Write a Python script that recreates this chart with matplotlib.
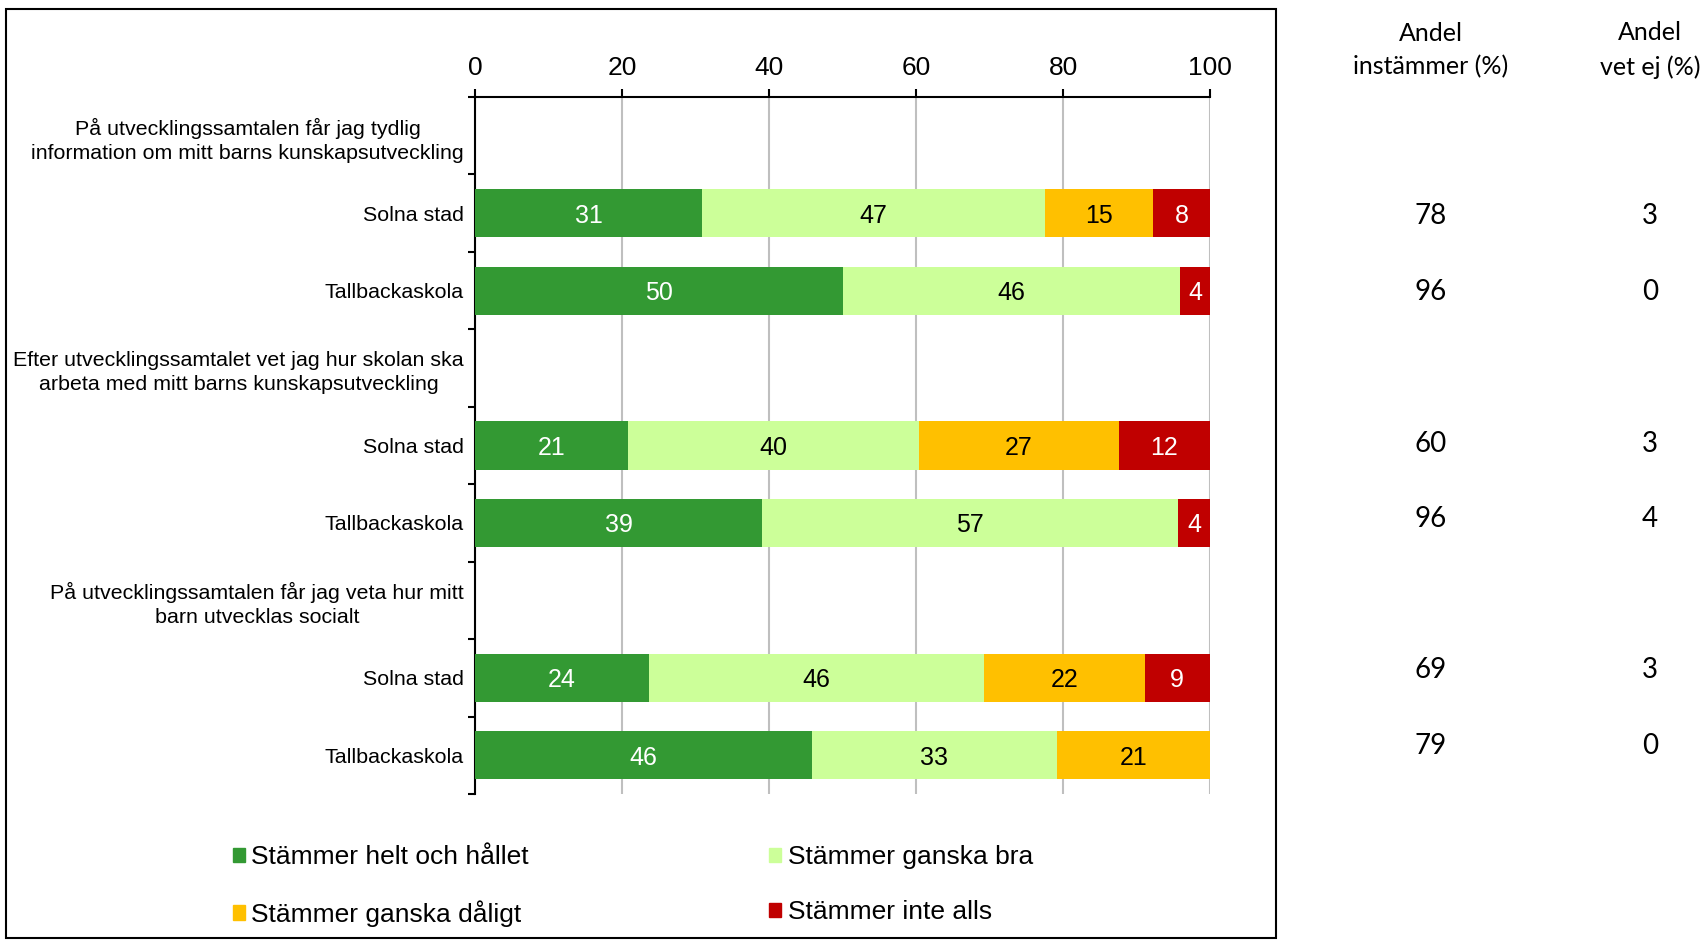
import numpy as np
import matplotlib
matplotlib.use('Agg')
import matplotlib.pyplot as plt
from matplotlib.patches import Patch, Rectangle

plt.rcParams['font.family'] = ['Liberation Sans', 'DejaVu Sans']

# data (percent)
questions = ["På utvecklingssamtalen får jag tydlig\ninformation om mitt barns kunskapsutveckling",
             "Efter utvecklingssamtalet vet jag hur skolan ska\narbeta med mitt barns kunskapsutveckling",
             "På utvecklingssamtalen får jag veta hur mitt\nbarn utvecklas socialt"]
groups = ["Solna stad", "Tallbackaskola"]

helt = [30.9, 50.0, 20.8, 39.1, 23.7, 45.8]
ganska_bra = [46.6, 45.9, 39.6, 56.6, 45.6, 33.4]
ganska_daligt = [14.8, 0, 27.2, 0, 21.8, 20.8]
inte_alls = [7.7, 4.1, 12.4, 4.3, 8.9, 0]

andel_instammer = [78, 96, 60, 96, 69, 79]
andel_vet_ej = [3, 0, 3, 4, 3, 0]

series_names = ["Stämmer helt och hållet", "Stämmer ganska bra",
                "Stämmer ganska dåligt", "Stämmer inte alls"]
colors = ["#339933", "#CCFF99", "#FFC000", "#C00000"]
text_colors = ["white", "black", "black", "white"]

W, H = 1703, 941
fig = plt.figure(figsize=(W / 100, H / 100), dpi=100)
ax = fig.add_axes([475 / W, 1 - 794 / H, (1210 - 475) / W, (794 - 97) / H])

# row layout: header, Solna, Tallbacka for each question
bar_y = [3 * q + 1 + g for q in range(len(questions)) for g in range(len(groups))]
ylabels = []
for q in questions:
    ylabels += [q] + groups

left = np.zeros(len(bar_y))
for vals, col, tcol, name in zip([helt, ganska_bra, ganska_daligt, inte_alls],
                                 colors, text_colors, series_names):
    vals = np.array(vals)
    ax.barh(bar_y, vals, left=left, height=0.62, color=col, label=name, zorder=3)
    for y, l, v in zip(bar_y, left, vals):
        if v > 0:
            ax.text(l + v / 2, y, f"{round(v)}", ha='center', va='center_baseline',
                    color=tcol, fontsize=18, zorder=4)
    left += vals

ax.set_xlim(0, 100)
ax.set_ylim(8.5, -0.5)
ax.xaxis.tick_top()
ax.set_xticks(range(0, 101, 20))
ax.tick_params(axis='x', length=6, width=1.5, labelsize=19, pad=6)
ax.set_yticks(range(9))
ax.set_yticklabels(ylabels)
for lbl in ax.get_yticklabels():
    lbl.set_multialignment('center')
    lbl.set_linespacing(1.32)
ax.set_yticks(np.arange(-0.5, 9, 1), minor=True)
ax.tick_params(axis='y', which='major', length=0, pad=8, labelsize=15.4)
ax.tick_params(axis='y', which='minor', length=5, width=1.5)
ax.grid(axis='x', color='#BFBFBF', lw=1.5)
ax.set_axisbelow(True)
for s in ['bottom', 'right']:
    ax.spines[s].set_visible(False)
for s in ['top', 'left']:
    ax.spines[s].set_linewidth(1.5)

# side table
ax2 = fig.add_axes([1276 / W, 1 - 784 / H, (W - 1276) / W, (784 - 103) / H])
ax2.axis('off')
ax2.set_xlim(0, 1)
ax2.set_ylim(8.5, -0.5)
col_x = [0.363, 0.876]
tfont = ['Lato', 'DejaVu Sans']
ax2.text(col_x[0], -1.2, "Andel\ninstämmer (%)", ha='center', va='center',
         fontsize=18, family=tfont, linespacing=1.55)
ax2.text(col_x[1], -1.2, "Andel\nvet ej (%)", ha='center', va='center',
         fontsize=18, family=tfont, linespacing=1.55)
for y, a, v in zip(bar_y, andel_instammer, andel_vet_ej):
    ax2.text(col_x[0], y, str(a), ha='center', va='center', fontsize=20, family=tfont)
    ax2.text(col_x[1], y, str(v), ha='center', va='center', fontsize=20, family=tfont)

# legend, filled row by row
order = [0, 2, 1, 3]
handles = [Patch(color=colors[i]) for i in order]
fig.legend(handles, [series_names[i] for i in order], ncol=2, loc='center left',
           bbox_to_anchor=(233 / W, 1 - 886 / H), frameon=False, fontsize=19,
           handlelength=0.45, handleheight=0.45, handletextpad=0.25,
           columnspacing=9.1, labelspacing=1.18, borderpad=0, borderaxespad=0)

fig.add_artist(Rectangle((6 / W, 1 - 938 / H), (1276 - 6) / W, (938 - 9) / H,
                         transform=fig.transFigure, fill=False, ec='black', lw=1.5))

fig.savefig('out.png', dpi=100)
